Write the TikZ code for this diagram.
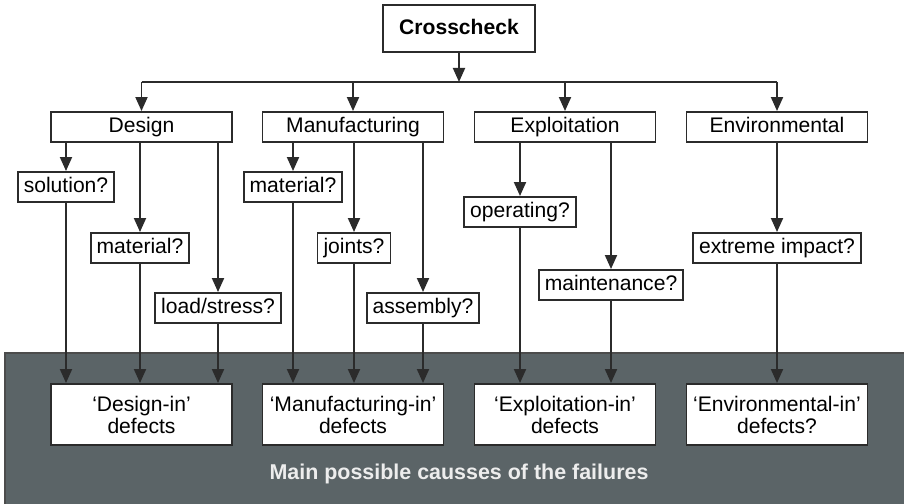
\documentclass[tikz,border=0pt]{standalone}
\usepackage{fontspec}
\setmainfont{Liberation Sans}
\usetikzlibrary{arrows.meta}

\definecolor{bandgray}{HTML}{5B6467}
\definecolor{linegray}{HTML}{2B2B2B}
\definecolor{titlegray}{HTML}{EDEDED}

\tikzset{
  box/.style={draw=linegray,line width=1.1pt,fill=white,inner sep=0pt,
    minimum height=0.6cm,text height=9pt,text depth=2.6pt,
    font=\fontsize{12}{12.5}\selectfont},
  headbox/.style={box,minimum width=3.62cm},
  askbox/.style={box,inner xsep=0.12cm},
  endbox/.style={box,text height={},text depth={},minimum width=3.62cm,minimum height=1.22cm,align=center},
  flow/.style={draw=linegray,line width=1.1pt,-{Triangle[length=0.28cm,width=0.24cm]}}
}

\begin{document}
\begin{tikzpicture}[x=1cm,y=1cm]
                \useasboundingbox (0,0) rectangle (18.08,10.08);
                % band with the results
                \fill[bandgray] (0.1,0) rectangle (18.08,3.02);
                \draw[line width=0.8pt,black!70] (0.1,0) -- (0.1,3.02) -- (18.08,3.02);
                \node[font=\bfseries\fontsize{12.2}{13}\selectfont,text=titlegray] (title) at (9.18,0.6) {Main possible causses of the failures};

                % top
                \node[box,font=\bfseries\fontsize{12}{12.5}\selectfont,minimum width=3.04cm,minimum height=0.94cm] (cross) at (9.18,9.51) {Crosscheck};
                \coordinate (bus) at (9.18,8.44);

                \node[headbox] (design) at (2.83,7.54) {Design};
                \node[headbox] (manuf) at (7.06,7.54) {Manufacturing};
                \node[headbox] (exploit) at (11.30,7.54) {Exploitation};
                \node[headbox] (environ) at (15.54,7.54) {Environmental};

                % questions
                \node[askbox] (solution) at (1.32,6.34) {solution?};
                \node[askbox] (dmat) at (2.80,5.12) {material?};
                \node[askbox] (load) at (4.36,3.92) {load/stress?};
                \node[askbox] (mmat) at (5.86,6.34) {material?};
                \node[askbox] (joints) at (7.08,5.12) {joints?};
                \node[askbox] (assembly) at (8.46,3.92) {assembly?};
                \node[askbox] (operating) at (10.40,5.84) {operating?};
                \node[askbox] (maint) at (12.22,4.38) {maintenance?};
                \node[askbox] (extreme) at (15.54,5.12) {extreme impact?};

                % defects
                \node[endbox] (dres) at (2.83,1.79) {`Design-in'\\defects};
                \node[endbox] (mres) at (7.06,1.79) {`Manufacturing-in'\\defects};
                \node[endbox] (eres) at (11.30,1.79) {`Exploitation-in'\\defects};
                \node[endbox] (vres) at (15.54,1.79) {`Environmental-in'\\defects?};

                % connectors
                \draw[flow] (cross) -- (bus);
                \draw[draw=linegray,line width=1.1pt] (bus -| design) -- (bus -| environ);
                \foreach \n in {design,manuf,exploit,environ}
                  \draw[flow] (bus -| \n) -- (\n);

                \foreach \p/\q/\r in {design/solution/dres,design/dmat/dres,design/load/dres,
                    manuf/mmat/mres,manuf/joints/mres,manuf/assembly/mres,
                    exploit/operating/eres,exploit/maint/eres,environ/extreme/vres}{
                  \draw[flow] (\p.south -| \q) -- (\q);
                  \draw[flow] (\q) -- (\r.north -| \q);
                }
            \end{tikzpicture}
\end{document}
